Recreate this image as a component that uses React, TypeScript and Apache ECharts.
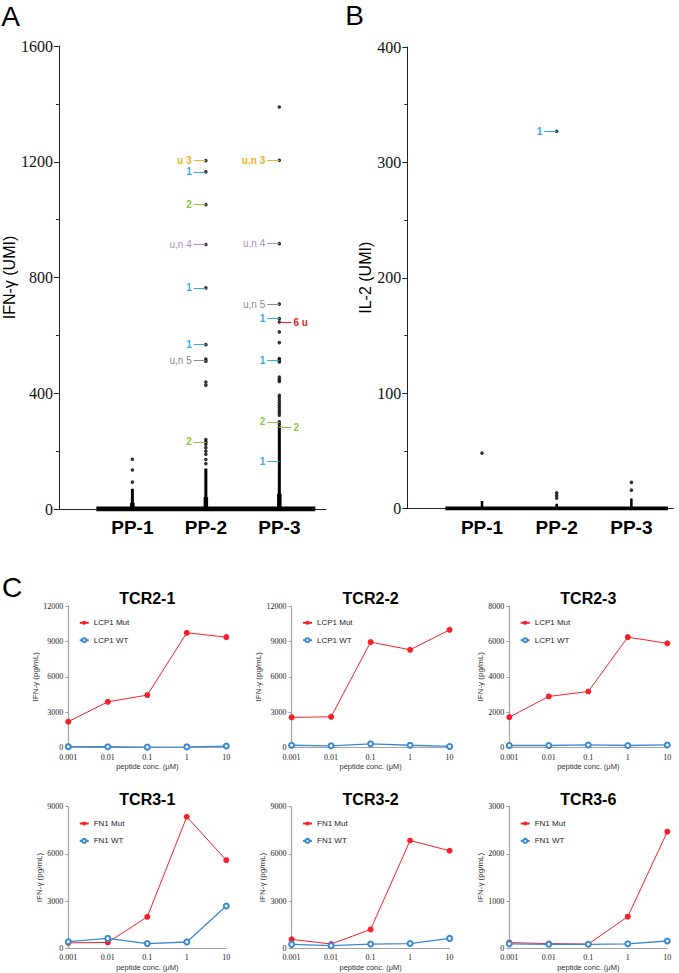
import React, { useEffect, useRef } from 'react';
import * as echarts from 'echarts';

const SANS = '"Liberation Sans", Arial, sans-serif';
const SERIF = '"Liberation Serif", "Times New Roman", serif';

// ---------------- Panels A & B : single-cell UMI ----------------
const ppGroups = ['PP-1', 'PP-2', 'PP-3'];

// IFN-γ UMI of cells standing apart from the dense mass (per group)
const ifngPP1 = [172, 135, 93];
const ifngPP2 = [1204, 1165, 1052, 914, 764, 568, 518, 511, 439, 428, 240, 232, 224, 212, 200, 189, 171, 157];
const ifngPP3 = [1389, 1205, 917, 708, 658, 646, 612, 575, 520, 514, 508, 456, 448, 441, 393, 385, 376, 367, 358, 350, 341, 333, 324, 301, 293, 283];
// top of the continuous dense column of cells, and of its wider base
const ifngDenseTop = [70, 140, 280];
const ifngDenseBase = [21, 41, 53];

// IL-2 UMI
const il2PP1 = [48];
const il2PP2 = [327, 13.5, 11.3, 9];
const il2PP3 = [22.6, 15.9];
const il2DenseTop = [6.6, 4.2, 8.7];

type Ann = { group: number; value: number; text: string; kind: string; side: 'left' | 'right' };
const ifngAnnotations: Ann[] = [
  { group: 2, value: 1204, text: 'u 3', kind: 'u3', side: 'left' },
  { group: 2, value: 1165, text: '1', kind: 'c1', side: 'left' },
  { group: 2, value: 1052, text: '2', kind: 'c2', side: 'left' },
  { group: 2, value: 914, text: 'u,n 4', kind: 'un4', side: 'left' },
  { group: 2, value: 764, text: '1', kind: 'c1', side: 'left' },
  { group: 2, value: 568, text: '1', kind: 'c1', side: 'left' },
  { group: 2, value: 514, text: 'u,n 5', kind: 'un5', side: 'left' },
  { group: 2, value: 232, text: '2', kind: 'c2', side: 'left' },
  { group: 3, value: 1205, text: 'u,n 3', kind: 'u3', side: 'left' },
  { group: 3, value: 917, text: 'u,n 4', kind: 'un4', side: 'left' },
  { group: 3, value: 708, text: 'u,n 5', kind: 'un5', side: 'left' },
  { group: 3, value: 658, text: '1', kind: 'c1', side: 'left' },
  { group: 3, value: 514, text: '1', kind: 'c1', side: 'left' },
  { group: 3, value: 301, text: '2', kind: 'c2', side: 'left' },
  { group: 3, value: 164, text: '1', kind: 'c1', side: 'left' },
  { group: 3, value: 646, text: '6 u', kind: 'u6', side: 'right' },
  { group: 3, value: 283, text: '2', kind: 'c2', side: 'right' },
];
const il2Annotations: Ann[] = [{ group: 2, value: 327, text: '1', kind: 'c1', side: 'left' }];

const annColors: Record<string, string> = {
  u3: '#F7AF2A',
  c1: '#2FAEE6',
  c2: '#8DC63F',
  un4: '#B58BC6',
  un5: '#8A8A8C',
  u6: '#EC1C2A',
};
const annWeights: Record<string, string> = {
  u3: 'bold',
  c1: 'bold',
  c2: 'bold',
  un4: 'normal',
  un5: 'normal',
  u6: 'bold',
};

// ---------------- Panel C : IFN-γ ELISA ----------------
const concentrations = ['0.001', '0.01', '0.1', '1', '10'];
const tcrTitles = ['TCR2-1', 'TCR2-2', 'TCR2-3', 'TCR3-1', 'TCR3-2', 'TCR3-6'];
const mutNames = ['LCP1 Mut', 'LCP1 Mut', 'LCP1 Mut', 'FN1 Mut', 'FN1 Mut', 'FN1 Mut'];
const wtNames = ['LCP1 WT', 'LCP1 WT', 'LCP1 WT', 'FN1 WT', 'FN1 WT', 'FN1 WT'];
const tcr21Mut = [2200, 3880, 4450, 9730, 9360];
const tcr21WT = [80, 70, 40, 60, 130];
const tcr22Mut = [2560, 2610, 8940, 8290, 9980];
const tcr22WT = [200, 150, 320, 200, 100];
const tcr23Mut = [1720, 2890, 3170, 6240, 5890];
const tcr23WT = [120, 120, 150, 120, 150];
const tcr31Mut = [350, 370, 2000, 8360, 5600];
const tcr31WT = [420, 630, 300, 400, 2690];
const tcr32Mut = [570, 270, 1200, 6850, 6200];
const tcr32WT = [250, 170, 270, 300, 630];
const tcr36Mut = [120, 100, 90, 670, 2470];
const tcr36WT = [95, 85, 85, 95, 155];
const mutSeries = [tcr21Mut, tcr22Mut, tcr23Mut, tcr31Mut, tcr32Mut, tcr36Mut];
const wtSeries = [tcr21WT, tcr22WT, tcr23WT, tcr31WT, tcr32WT, tcr36WT];
const yMaxC = [12000, 12000, 8000, 9000, 9000, 3000];
const yStepC = [3000, 3000, 2000, 3000, 3000, 1000];

// ---------------- layout (styling only) ----------------
const RED = '#F2222B';
const BLUE = '#3A88D2';
const colLeft = [68.3, 291.6, 509.3];
const rowTop = [606, 806.7];
const plotW = 158;
const plotH = 141.6;
const plain = (v: number) => String(v);

function buildOption() {
  const grids: any[] = [
    { left: 57, top: 46, width: 269, height: 463 },
    { left: 407.3, top: 47, width: 266, height: 461.5 },
  ];
  for (let i = 0; i < 6; i++) {
    grids.push({ left: colLeft[i % 3], top: rowTop[Math.floor(i / 3)], width: plotW, height: plotH });
  }

  const ppXAxis = (gridIndex: number, max: number) => ({
    type: 'value',
    gridIndex,
    min: 0,
    max,
    interval: 1,
    splitLine: { show: false },
    axisTick: { show: false },
    axisLine: { lineStyle: { color: '#222', width: 1 } },
    axisLabel: {
      formatter: (v: number) => ppGroups[v - 1] ?? '',
      fontFamily: SANS,
      fontWeight: 'bold',
      fontSize: 19,
      color: '#000',
      margin: 9,
    },
  });
  const ppYAxis = (gridIndex: number, max: number, step: number, name: string, gap: number) => ({
    type: 'value',
    gridIndex,
    min: 0,
    max,
    interval: step,
    name,
    nameLocation: 'middle',
    nameGap: gap,
    nameTextStyle: { fontFamily: SANS, fontSize: 16, color: '#000' },
    splitLine: { show: false },
    axisLine: { show: true, lineStyle: { color: '#222', width: 1 } },
    axisTick: { show: true, length: 5, lineStyle: { color: '#222' } },
    minorTick: { show: true, splitNumber: 2, length: 3, lineStyle: { color: '#222' } },
    axisLabel: { formatter: plain, fontFamily: SERIF, fontSize: 16, color: '#111', margin: 6 },
  });

  const xAxes: any[] = [ppXAxis(0, 269 / 74), ppXAxis(1, 266 / 74.7)];
  const yAxes: any[] = [
    ppYAxis(0, 1600, 400, 'IFN-γ (UMI)', 39),
    ppYAxis(1, 400, 100, 'IL-2 (UMI)', 31),
  ];
  for (let i = 0; i < 6; i++) {
    xAxes.push({
      type: 'category',
      gridIndex: 2 + i,
      data: concentrations,
      boundaryGap: false,
      name: 'peptide conc. (μM)',
      nameLocation: 'middle',
      nameGap: 15,
      nameTextStyle: { fontFamily: SANS, fontSize: 7.5, color: '#333' },
      axisLine: { lineStyle: { color: '#A3A3A3', width: 1 } },
      axisTick: { show: false },
      axisLabel: { fontFamily: SERIF, fontSize: 8, color: '#222', margin: 5.5, interval: 0 },
      splitLine: { show: false },
    });
    yAxes.push({
      type: 'value',
      gridIndex: 2 + i,
      min: 0,
      max: yMaxC[i],
      interval: yStepC[i],
      name: 'IFN-γ (pg/mL)',
      nameLocation: 'middle',
      nameGap: 25,
      nameTextStyle: { fontFamily: SANS, fontSize: 8, color: '#333' },
      axisLine: { show: true, lineStyle: { color: '#A3A3A3', width: 1.2 } },
      axisTick: { show: true, length: 3, lineStyle: { color: '#A3A3A3' } },
      axisLabel: { formatter: plain, fontFamily: SERIF, fontSize: 8, color: '#222', margin: 5 },
      splitLine: { show: false },
    });
  }

  const series: any[] = [];

  const addPanel = (
    idx: number,
    groups: number[][],
    denseTop: number[],
    denseBase: number[] | null,
    anns: Ann[],
    bandWidth: number,
    colWidth: number,
    lineLen: number,
  ) => {
    // baseline mass of near-zero cells
    series.push({
      type: 'line',
      xAxisIndex: idx,
      yAxisIndex: idx,
      data: [
        [1 - 0.49, 0],
        [groups.length + 0.49, 0],
      ],
      symbol: 'none',
      silent: true,
      lineStyle: { color: '#000', width: bandWidth },
      z: 3,
    });
    // dense columns
    denseTop.forEach((top, g) => {
      series.push({
        type: 'line',
        xAxisIndex: idx,
        yAxisIndex: idx,
        data: [
          [g + 1, 0],
          [g + 1, top],
        ],
        symbol: 'none',
        silent: true,
        lineStyle: { color: '#000', width: colWidth },
        z: 3,
      });
      if (denseBase) {
        series.push({
          type: 'line',
          xAxisIndex: idx,
          yAxisIndex: idx,
          data: [
            [g + 1, 0],
            [g + 1, denseBase[g]],
          ],
          symbol: 'none',
          silent: true,
          lineStyle: { color: '#000', width: colWidth + 1.5 },
          z: 3,
        });
      }
    });
    const pts: number[][] = [];
    groups.forEach((vals, g) => vals.forEach((v) => pts.push([g + 1, v])));
    series.push({
      type: 'scatter',
      xAxisIndex: idx,
      yAxisIndex: idx,
      data: pts,
      symbolSize: 3.6,
      itemStyle: { color: '#000' },
      silent: true,
      z: 4,
      markLine: {
        silent: true,
        symbol: ['none', 'none'],
        animation: false,
        data: anns.map((a) => {
          const c = annColors[a.kind];
          const from = a.side === 'left' ? a.group - lineLen : a.group;
          const to = a.side === 'left' ? a.group : a.group + lineLen;
          return [
            {
              coord: [from, a.value],
              lineStyle: { color: c, width: 1, type: 'solid' },
              label: {
                show: true,
                position: a.side === 'left' ? 'start' : 'end',
                formatter: a.text,
                color: c,
                fontFamily: SANS,
                fontSize: 10,
                fontWeight: annWeights[a.kind],
                distance: 2,
              },
            },
            { coord: [to, a.value] },
          ];
        }),
      },
    });
  };

  addPanel(0, [ifngPP1, ifngPP2, ifngPP3], ifngDenseTop, ifngDenseBase, ifngAnnotations, 5, 3, 0.165);
  addPanel(1, [il2PP1, il2PP2, il2PP3], il2DenseTop, null, il2Annotations, 4, 2.5, 0.165);

  for (let i = 0; i < 6; i++) {
    series.push({
      name: mutNames[i],
      type: 'line',
      xAxisIndex: 2 + i,
      yAxisIndex: 2 + i,
      data: mutSeries[i],
      symbol: 'circle',
      symbolSize: 6,
      itemStyle: { color: RED },
      lineStyle: { color: RED, width: 1 },
      z: 3,
    });
    series.push({
      name: wtNames[i],
      type: 'line',
      xAxisIndex: 2 + i,
      yAxisIndex: 2 + i,
      data: wtSeries[i],
      symbol: 'emptyCircle',
      symbolSize: 5,
      itemStyle: { color: BLUE, borderColor: BLUE, borderWidth: 1.2 },
      lineStyle: { color: BLUE, width: 1.3 },
      z: 4,
    });
  }

  const legends = tcrTitles.map((_, i) => ({
    data: [mutNames[i], wtNames[i]],
    orient: 'vertical',
    left: colLeft[i % 3] + 10.4,
    top: rowTop[Math.floor(i / 3)] + 12.8,
    padding: 0,
    itemWidth: 9,
    itemHeight: 5,
    itemGap: 9.4,
    selectedMode: false,
    textStyle: { fontFamily: SANS, fontSize: 8, color: '#222' },
  }));

  const txt = (text: string, x: number, y: number, size: number, weight: string) => ({
    type: 'text',
    x,
    y,
    silent: true,
    style: {
      text,
      fill: '#000',
      fontFamily: SANS,
      fontSize: size,
      fontWeight: weight,
      align: 'center',
      verticalAlign: 'middle',
      textAlign: 'center',
      textVerticalAlign: 'middle',
    },
  });

  const graphics: any[] = [
    txt('A', 10.5, 16, 28, 'normal'),
    txt('B', 354.5, 15.5, 28, 'normal'),
    txt('C', 12, 587, 28, 'normal'),
  ];
  tcrTitles.forEach((t, i) => {
    graphics.push(txt(t, colLeft[i % 3] + plotW / 2, rowTop[Math.floor(i / 3)] - 7.5, 16, 'bold'));
  });

  return {
    animation: false,
    backgroundColor: '#fff',
    grid: grids,
    xAxis: xAxes,
    yAxis: yAxes,
    legend: legends,
    series,
    graphic: graphics,
  };
}

export default function App() {
  const ref = useRef<HTMLDivElement>(null);
  useEffect(() => {
    if (!ref.current) return;
    const chart = echarts.init(ref.current, undefined, { renderer: 'svg' });
    chart.setOption(buildOption() as any);
    return () => chart.dispose();
  }, []);
  return (
    <div
      ref={ref}
      style={{ position: 'absolute', left: 0, top: 0, width: 679, height: 973, background: '#fff' }}
    />
  );
}
